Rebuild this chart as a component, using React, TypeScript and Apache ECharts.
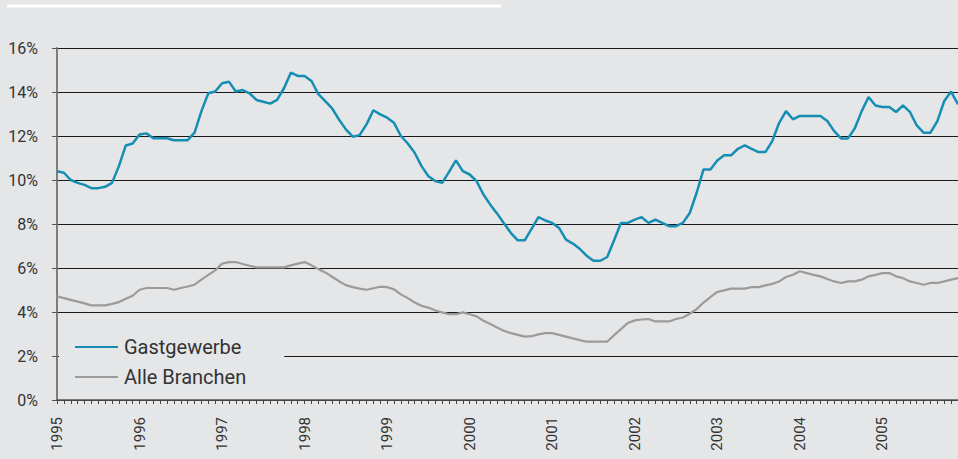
import React, { useEffect, useRef } from "react";
import * as echarts from "echarts";

const years = ["1995", "1996", "1997", "1998", "1999", "2000", "2001", "2002", "2003", "2004", "2005"];

const gastgewerbe = [
  10.4, 10.33, 10.0, 9.87, 9.78, 9.63, 9.63, 9.69, 9.87, 10.63, 11.57, 11.66,
  12.07, 12.12, 11.9, 11.9, 11.9, 11.81, 11.81, 11.81, 12.15, 13.13, 13.94, 14.02,
  14.4, 14.47, 14.02, 14.09, 13.94, 13.64, 13.56, 13.47, 13.64, 14.17, 14.88, 14.73,
  14.73, 14.5, 13.9, 13.59, 13.26, 12.75, 12.3, 11.97, 12.04, 12.53, 13.17, 12.98,
  12.83, 12.6, 12.0, 11.66, 11.24, 10.63, 10.17, 9.95, 9.87, 10.37, 10.89, 10.4,
  10.25, 9.95, 9.34, 8.88, 8.47, 8.02, 7.59, 7.26, 7.26, 7.78, 8.31, 8.16,
  8.05, 7.82, 7.29, 7.11, 6.87, 6.56, 6.33, 6.33, 6.5, 7.26, 8.05, 8.05,
  8.2, 8.31, 8.05, 8.2, 8.05, 7.9, 7.9, 8.05, 8.5, 9.42, 10.48, 10.48,
  10.89, 11.12, 11.12, 11.42, 11.57, 11.42, 11.27, 11.27, 11.77, 12.6, 13.13, 12.76,
  12.91, 12.91, 12.91, 12.91, 12.68, 12.22, 11.89, 11.89, 12.35, 13.13, 13.77, 13.39,
  13.32, 13.32, 13.09, 13.39, 13.1, 12.48, 12.15, 12.15, 12.68, 13.59, 14.02, 13.44,
];

const alleBranchen = [
  4.71, 4.63, 4.55, 4.47, 4.39, 4.3, 4.3, 4.3, 4.37, 4.45, 4.6, 4.74,
  5.01, 5.09, 5.09, 5.09, 5.09, 5.01, 5.09, 5.16, 5.24, 5.47, 5.69, 5.89,
  6.2, 6.27, 6.27, 6.18, 6.1, 6.03, 6.03, 6.03, 6.03, 6.03, 6.12, 6.2,
  6.27, 6.12, 5.95, 5.8, 5.6, 5.4, 5.22, 5.13, 5.06, 5.01, 5.08, 5.15,
  5.13, 5.03, 4.8, 4.63, 4.43, 4.28, 4.2, 4.07, 3.98, 3.9, 3.9, 3.98,
  3.9, 3.8, 3.6, 3.45, 3.3, 3.14, 3.04, 2.96, 2.88, 2.9, 2.98, 3.04,
  3.04, 2.96, 2.88, 2.8, 2.72, 2.65, 2.65, 2.65, 2.65, 2.95, 3.22, 3.5,
  3.62, 3.66, 3.68, 3.57, 3.57, 3.57, 3.68, 3.75, 3.92, 4.13, 4.43, 4.68,
  4.91, 4.98, 5.06, 5.06, 5.06, 5.13, 5.13, 5.21, 5.28, 5.39, 5.59, 5.69,
  5.85, 5.77, 5.69, 5.62, 5.5, 5.39, 5.32, 5.39, 5.39, 5.47, 5.62, 5.69,
  5.77, 5.77, 5.62, 5.54, 5.39, 5.32, 5.24, 5.32, 5.32, 5.39, 5.47, 5.54,
];

const seriesNames = ["Gastgewerbe", "Alle Branchen"];
const yMin = 0;
const yMax = 16;
const yStep = 2;

export default function App() {
  const ref = useRef<HTMLDivElement>(null);

  useEffect(() => {
    if (!ref.current) return;
    const chart = echarts.init(ref.current, null, { renderer: "svg" });
    const categories: string[] = [];
    years.forEach((y) => {
      for (let m = 1; m <= 12; m++) categories.push(`${y}-${m < 10 ? "0" + m : m}`);
    });
    const font = "Roboto";
    chart.setOption({
      animation: false,
      backgroundColor: "#e5e6e8",
      textStyle: { fontFamily: font },
      grid: { left: 57, right: 0, top: 48, bottom: 59, containLabel: false, outerBoundsMode: "none" },
      legend: {
        data: seriesNames,
        orient: "vertical",
        left: 59,
        top: 325,
        padding: [11, 38, 8, 16],
        itemGap: 8,
        itemWidth: 43,
        itemHeight: 2,
        icon: "rect",
        backgroundColor: "#e5e6e8",
        selectedMode: false,
        textStyle: {
          fontSize: 20,
          color: "#333",
          fontFamily: font,
          lineHeight: 22,
          padding: [0, 0, 0, 1],
        },
      },
      graphic: [
        {
          type: "line",
          shape: { x1: 7, y1: 6, x2: 501, y2: 6 },
          style: { stroke: "#ffffff", lineWidth: 3 },
        },
      ],
      xAxis: {
        type: "category",
        data: categories,
        boundaryGap: false,
        axisLine: { show: true, lineStyle: { color: "#555", width: 1.5 } },
        axisTick: { show: true, interval: 0, length: 4, lineStyle: { color: "#444", width: 1 } },
        axisLabel: {
          interval: (idx: number) => idx % 12 === 0,
          formatter: (v: string) => v.slice(0, 4),
          rotate: 90,
          margin: 17,
          fontSize: 15,
          color: "#333",
          fontFamily: font,
        },
        splitLine: { show: false },
      },
      yAxis: {
        type: "value",
        min: yMin,
        max: yMax,
        interval: yStep,
        axisLine: { show: true, lineStyle: { color: "#7d7d7d", width: 2 } },
        axisTick: { show: true, length: 5, lineStyle: { color: "#555" } },
        axisLabel: { formatter: "{value}%", margin: 19, fontSize: 16, color: "#333", fontFamily: font },
        splitLine: { show: true, lineStyle: { color: "#1a1a1a", width: 1 } },
      },
      series: [
        {
          name: seriesNames[0],
          type: "line",
          data: gastgewerbe,
          symbol: "none",
          lineStyle: { color: "#168db3", width: 2.5 },
          itemStyle: { color: "#168db3" },
          z: 3,
        },
        {
          name: seriesNames[1],
          type: "line",
          data: alleBranchen,
          symbol: "none",
          lineStyle: { color: "#9b9b9b", width: 2.2 },
          itemStyle: { color: "#9b9b9b" },
          z: 2,
        },
      ],
    });
    return () => chart.dispose();
  }, []);

  return <div ref={ref} style={{ position: "fixed", left: 0, top: 0, width: 958, height: 459 }} />;
}
